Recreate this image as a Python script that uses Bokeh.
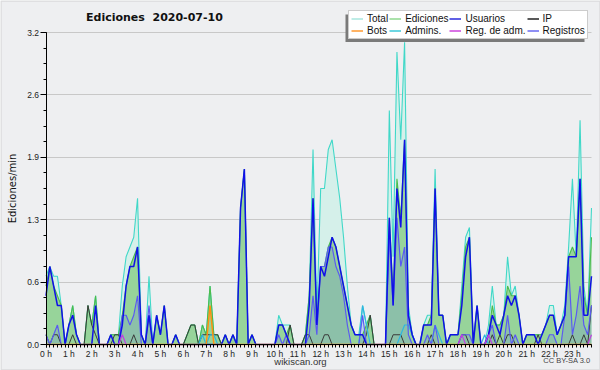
from bokeh.plotting import figure
from bokeh.models import (Range1d, FixedTicker, Legend, LegendItem, Label,
                          BoxAnnotation, ColumnDataSource, LinearAxis)
from bokeh.embed import file_html
from bokeh.resources import INLINE

# ---- data: edits per minute, 10-minute bins, 2020-07-10 (144 bins) ----
total = [
    .7, .8, .7, .7, .4, 0,     .2, .4, .1, 0, 0, .4,      .2, .5, 0, 0, 0, .1,
    .1, .1, .6, .9, 1.0, 1.1,  1.5, .1, 0, .7, 0, .3,     .1, .4, 0, 0, .1, 0,
    0, .1, .2, .2, 0, .2,      .1, .6, .1, .1, 0, .1,     0, .1, 0, 1.4, 1.8, 0,
    .1, 0, 0, 0, 0, 0,         0, .3, .2, .2, .2, 0,      0, 0, .1, .5, 2.0, .3,
    1.6, 1.6, 2.0, 2.1, 1.8, 1.5, 1.1, .6, .2, .1, .1, .4, .2, .3, 0, 0, 0, 0,
    2.4, .9, 3.0, 2.1, 3.1, .4, .1, 0, 0, .2, .3, .3,     1.8, .3, .3, 0, .1, .1,
    .1, .6, 1.1, 1.2, 0, .4,   0, 0, .2, .6, .2, .2,      .3, .9, .5, .6, .3, 0,
    .1, .1, .1, .1, .1, .2,    .4, .4, .1, .2, .4, 1.0,   1.7, .9, 2.3, .6, .3, 1.4,
]
ediciones = [
    .6, .8, .6, .5, .4, 0,     .2, .4, .1, 0, 0, .4,      .2, .5, 0, 0, 0, .1,
    .1, .1, .3, .6, .8, .9,    1.0, .1, 0, .3, 0, .3,     .1, .4, 0, 0, .1, 0,
    0, .1, .2, .2, 0, .2,      .1, .6, .1, .1, 0, .1,     0, .1, 0, 1.4, 1.8, 0,
    .1, 0, 0, 0, 0, 0,         0, .2, .2, .1, .2, 0,      0, 0, .1, .5, 1.5, .2,
    .8, .8, 1.0, 1.1, 1.0, .8, .6, .4, .2, .1, .1, .1,    .2, .3, 0, 0, 0, 0,
    1.3, .5, 1.7, 1.3, 2.1, .3, .1, 0, 0, .2, .2, .3,     1.6, .3, .3, 0, .1, .1,
    .1, .5, 1.0, 1.1, 0, .4,   0, 0, .1, .4, .2, .2,      .3, .6, .5, .5, .3, 0,
    .1, .1, .1, .1, .1, .2,    .3, .3, .1, .2, .3, .9,    1.0, .9, 1.7, .5, .3, 1.1,
]
usuarios = [
    .5, .8, .6, .4, .4, 0,     .2, .3, .1, 0, 0, 0,       0, .4, 0, 0, 0, .1,
    0, 0, .2, .6, .8, .8,      1.0, .1, 0, .3, 0, .3,     .1, .4, 0, 0, .1, 0,
    0, 0, 0, 0, 0, 0,          0, 0, 0, 0, 0, .1,         0, .1, 0, 1.4, 1.8, 0,
    .1, 0, 0, 0, 0, 0,         0, .2, .2, .1, 0, 0,       0, 0, 0, .4, 1.5, .2,
    .8, .7, .9, 1.1, 1.0, .8,  .6, .4, .2, .1, .1, .1,    0, 0, 0, 0, 0, 0,
    1.3, .4, 1.6, 1.2, 2.1, .3, .1, 0, 0, .2, .2, .2,     1.6, .3, .3, 0, .1, .1,
    .1, .4, .9, 1.1, 0, .4,    0, 0, .1, .3, .2, .1,      .3, .5, .4, .5, .3, 0,
    .1, .1, .1, 0, .1, .2,     .3, .3, .1, .2, .3, .9,    .9, .9, 1.7, .3, .3, .7,
]
ip = [
    .1, 0, .1, .1, 0, 0,       0, .1, 0, 0, 0, .4,        .2, .1, 0, 0, 0, 0,
    .1, .1, 0, 0, 0, .1,       0, 0, 0, 0, 0, 0,          0, 0, 0, 0, 0, 0,
    0, .1, .2, .2, 0, .1,      .1, .1, .1, .1, 0, 0,      0, 0, 0, 0, 0, 0,
    0, 0, 0, 0, 0, 0,          0, 0, 0, 0, .2, 0,         0, 0, .1, .1, 0, 0,
    0, .1, .1, 0, 0, 0,        0, 0, 0, 0, 0, 0,          .1, .3, 0, 0, 0, 0,
    0, .1, .1, .1, 0, 0,       0, 0, 0, 0, 0, .1,         0, 0, 0, 0, 0, 0,
    0, .1, .1, 0, 0, 0,        0, 0, 0, .1, 0, .1,        0, .1, .1, 0, 0, 0,
    0, 0, 0, .1, 0, 0,         0, 0, 0, 0, 0, 0,          .1, 0, 0, .1, 0, .4,
]
registros = [
    .1, 0, .1, .2, 0, 0,       0, 0, 0, 0, 0, 0,          0, 0, 0, 0, 0, 0,
    0, 0, .3, .3, .2, .3,      .5, 0, 0, .4, 0, 0,        0, 0, 0, 0, 0, 0,
    0, 0, 0, 0, 0, 0,          0, 0, 0, 0, 0, 0,          0, 0, 0, 0, 0, 0,
    0, 0, 0, 0, 0, 0,          0, .1, 0, .1, 0, 0,        0, 0, 0, .1, .5, .1,
    .8, .8, 1.0, 1.0, .8, .7,  .5, .2, 0, 0, 0, .3,       0, 0, 0, 0, 0, 0,
    1.1, .4, 1.3, .8, 1.0, .1, 0, 0, 0, 0, .1, 0,         .2, 0, 0, 0, 0, 0,
    0, .1, .1, .1, 0, 0,       0, 0, .1, .2, 0, 0,        0, .3, 0, .1, 0, 0,
    0, 0, 0, 0, 0, 0,          .1, .1, 0, 0, .3, .8,      .1, .3, .6, .2, .1, .4,
]
admins = [0] * 144
for i, v in [(41, .1), (43, .1), (44, .1), (83, .4), (84, .2), (93, .1), (94, .2),
             (95, .2), (96, .1), (102, .2), (103, .1), (115, .1)]:
    admins[i] = v
bots = [0] * 144
for i, v in [(43, .4)]:
    bots[i] = v
reg_adm = [0] * 144
for i, v in [(20, .1), (109, .1), (116, .1), (143, .1)]:
    reg_adm[i] = v

times = [i / 6 for i in range(144)]          # hours, 10-minute steps
hour_ticks = list(range(24))
hour_labels = [f"{h} h" for h in hour_ticks]
y_ticks = [0, 0.64, 1.28, 1.92, 2.56, 3.2]
y_tick_labels = ["0.0", "0.6", "1.3", "1.9", "2.6", "3.2"]
y_max = 3.2

src = ColumnDataSource(dict(x=times, T=total, E=ediciones, U=usuarios, IP=ip,
                            R=registros, A=admins, B=bots, RA=reg_adm))

# pixel anchors of the data area inside a 600x370 canvas
W, H = 600, 370
LEFT_PX, RIGHT_PX, TOP_PX, ZERO_PX = 45.5, 591, 32, 344
x_unit = (RIGHT_PX - LEFT_PX) / times[-1]
y_unit = (ZERO_PX - TOP_PX) / y_max
x_range = Range1d(-LEFT_PX / x_unit, times[-1] + (W - RIGHT_PX) / x_unit)
y_range = Range1d(-(H - ZERO_PX) / y_unit, y_max + TOP_PX / y_unit)

p = figure(width=W, height=H, output_backend="svg", toolbar_location=None,
           x_range=x_range, y_range=y_range,
           min_border_left=0, min_border_right=0, min_border_top=0,
           min_border_bottom=0, background_fill_color="#eeeff1",
           border_fill_color="#eeeff1", outline_line_color=None)

# areas
p.varea(x="x", y1=0, y2="T", source=src, fill_color="#d5f0ea", fill_alpha=1)
p.varea(x="x", y1=0, y2="E", source=src, fill_color="#8ccf8c", fill_alpha=0.85)
p.varea(x="x", y1=0, y2="R", source=src, fill_color="#5050ff", fill_alpha=0.15)
# lines
p.line("x", "T", source=src, line_color="#40d8c8", line_width=1.1)
p.line("x", "E", source=src, line_color="#4cbc4c", line_width=1.1)
p.line("x", "IP", source=src, line_color="#3a3a3a", line_width=1.0)
p.line("x", "A", source=src, line_color="#2fb6e0", line_width=1.2)
p.line("x", "R", source=src, line_color="#5a5af2", line_width=1.2)
p.line("x", "U", source=src, line_color="#1010e8", line_width=1.5)
p.line("x", "B", source=src, line_color="#ff9010", line_width=1.5)
p.line("x", "RA", source=src, line_color="#c040e0", line_width=1.2)

# axes (drawn inside the full-canvas frame at x=0 / y=0)
p.xaxis.fixed_location = 0
p.xaxis.bounds = (0, times[-1])
p.xaxis.ticker = FixedTicker(ticks=hour_ticks, minor_ticks=times)
p.xaxis.major_label_overrides = dict(zip(hour_ticks, hour_labels))
p.yaxis.fixed_location = 0
p.yaxis.bounds = (0, y_max)
p.yaxis.ticker = FixedTicker(ticks=y_ticks,
                             minor_ticks=[k * 0.16 for k in range(21)])
p.yaxis.major_label_overrides = dict(zip(y_ticks, y_tick_labels))
p.xgrid.visible = False
p.ygrid.ticker = FixedTicker(ticks=y_ticks)
p.ygrid.grid_line_color = "#c8c8c8"
try:
    p.ygrid.cross_bounds = (0, times[-1])
except AttributeError:
    p.ygrid.visible = False
    gaxis = LinearAxis(fixed_location=0, ticker=FixedTicker(ticks=y_ticks),
                       major_tick_in=int(RIGHT_PX - LEFT_PX), major_tick_out=0,
                       major_tick_line_color="#c8c8c8", minor_tick_line_color=None,
                       axis_line_color=None, major_label_text_font_size="0px",
                       level="underlay")
    p.add_layout(gaxis, "left")

for ax in (p.xaxis, p.yaxis):
    ax.axis_line_color = "black"
    ax.major_tick_line_color = "black"
    ax.minor_tick_line_color = "black"
    ax.major_tick_in = 0
    ax.minor_tick_in = 0
    ax.major_label_text_font = "Liberation Sans"
    ax.major_label_text_font_size = "8.5px"
    ax.major_label_text_color = "#222222"
p.xaxis.major_tick_out = 3
p.xaxis.minor_tick_out = 3
p.xaxis.major_label_standoff = 1
p.yaxis.major_tick_out = 6
p.yaxis.minor_tick_out = 3
p.yaxis.major_label_standoff = 1
p.yaxis.axis_label = "Ediciones/min"
p.yaxis.axis_label_text_font = "DejaVu Sans"
p.yaxis.axis_label_text_font_style = "normal"
p.yaxis.axis_label_text_font_size = "10px"
p.yaxis.axis_label_text_color = "#111111"
p.yaxis.axis_label_standoff = 7

# title and footers (screen units: from the frame's bottom-left)
p.add_layout(Label(x=85.5, y=H - 16.5, x_units="screen", y_units="screen",
                   text="Ediciones\u00a0\u00a02020-07-10", text_font="DejaVu Sans",
                   text_font_style="bold", text_font_size="11px",
                   text_color="#111111", text_baseline="middle"))
p.add_layout(Label(x=300, y=9, x_units="screen", y_units="screen",
                   text="wikiscan.org", text_font="Liberation Sans",
                   text_font_size="9.5px", text_color="#333333",
                   text_align="center", text_baseline="middle"))
p.add_layout(Label(x=590, y=10, x_units="screen", y_units="screen",
                   text="CC BY-SA 3.0", text_font="Liberation Sans",
                   text_font_size="7.5px", text_color="#444444",
                   text_align="right", text_baseline="middle"))

# legend
legend_specs = [("Total", "#a8e6de"), ("Ediciones", "#8fd88f"),
                ("Usuarios", "#2b2bdd"), ("IP", "#222222"),
                ("Bots", "#ff9a30"), ("Admins.", "#3cc8d8"),
                ("Reg. de adm.", "#cc44dd"), ("Registros", "#6a6af0")]
items = []
for name, col in legend_specs:
    r = p.line(x=[float("nan")], y=[float("nan")], line_color=col, line_width=1.5)
    items.append(LegendItem(label=name, renderers=[r]))

p.add_layout(BoxAnnotation(left=345, right=584, top=14, bottom=41.5,
                           left_units="canvas", right_units="canvas",
                           top_units="canvas", bottom_units="canvas",
                           fill_color="#7a7a7a", fill_alpha=1, line_color=None))
legend = Legend(items=items, orientation="horizontal", nrows=2,
                location=(348, H - 38.5), label_text_font="Liberation Sans",
                label_text_font_size="10px", label_text_color="#111111",
                label_height=9, glyph_height=9, glyph_width=12,
                label_standoff=4, spacing=1, padding=2, margin=0,
                border_line_color="#999999", border_line_width=1,
                background_fill_color="white", background_fill_alpha=1)
p.add_layout(legend)

# outer picture border
p.add_layout(BoxAnnotation(left=0.5, right=599.5, top=0.5, bottom=369.5,
                           left_units="canvas", right_units="canvas",
                           top_units="canvas", bottom_units="canvas",
                           fill_alpha=0, line_color="#b0b0b0", line_width=1.5))

open("out.html", "w").write(file_html(p, INLINE))
